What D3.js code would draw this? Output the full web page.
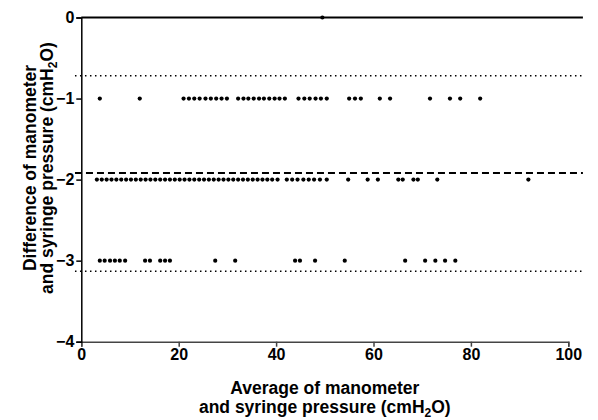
<!DOCTYPE html>
<html>
<head>
<meta charset="utf-8">
<script src="https://cdn.jsdelivr.net/npm/d3@7"></script>
<style>
  html, body { margin: 0; padding: 0; background: #fff; }
  svg { display: block; font-family: "Liberation Sans", Arial, sans-serif; }
  .axis-title { font-size: 17.5px; font-weight: bold; fill: #000; }
</style>
</head>
<body>
<svg id="chart" width="598" height="420"></svg>
<script>
/* Bland-Altman style plot: manometer vs syringe pressure. */

// averages (x) for each observed difference (y)
const diffZero = [49.5];
const diffMinus1 = [3.8, 12.0, 21.0, 22.1, 23.2, 24.3, 25.5, 26.6, 27.7, 28.8, 29.9,
  32.2, 33.3, 34.3, 35.4, 36.5, 37.5, 38.6, 39.7, 40.7, 41.8,
  44.6, 45.8, 46.9, 48.1, 49.2, 50.4, 55.0, 56.2, 57.4, 61.3, 63.4, 71.6, 75.7, 77.8, 81.9];
const diffMinus2 = [3.2, 4.2, 5.2, 6.2, 7.2, 8.2, 9.2, 10.2, 11.2, 12.2, 13.2, 14.2, 15.2,
  16.2, 17.2, 18.2, 19.2, 20.2, 21.2, 22.2, 23.2, 24.2, 25.2, 26.2, 27.2, 28.2, 29.2,
  30.2, 31.2, 32.2, 33.2, 34.2, 35.2, 36.2, 37.2, 38.2, 39.2, 40.3,
  42.2, 43.3, 44.4, 45.6, 46.7, 47.8, 49.0, 50.4, 54.8, 58.8, 60.9, 65.1, 66.0,
  68.2, 69.1, 73.1, 91.8];
const diffMinus3 = [3.8, 4.8, 5.9, 6.9, 7.9, 9.0, 13.1, 14.1, 16.2, 17.2, 18.2, 27.5, 31.6,
  43.9, 44.9, 48.0, 54.1, 66.5, 70.6, 72.7, 74.7, 76.8];

const bias = -1.92;
const limits = [-0.72, -3.13];

const xTicks = [0, 20, 40, 60, 80, 100];
const yTicks = [0, -1, -2, -3, -4];

const margin = { top: 17.5, right: 29.7, bottom: 78.3, left: 81.3 };
const W = 598, H = 420;
const w = W - margin.left - margin.right;
const h = H - margin.top - margin.bottom;

const svg = d3.select("#chart");
const g = svg.append("g").attr("transform", `translate(${margin.left},${margin.top})`);

const x = d3.scaleLinear().domain([0, 100]).range([0, w]);
const y = d3.scaleLinear().domain([-4, 0]).range([h, 0]);

const minus = d => String(d).replace("-", "\u2212");

// axes
const xAxis = g.append("g").attr("transform", `translate(0,${h})`)
  .call(d3.axisBottom(x).tickValues(xTicks).tickSize(5).tickPadding(2).tickFormat(d3.format("d")));
const yAxis = g.append("g")
  .call(d3.axisLeft(y).tickValues(yTicks).tickSize(5).tickPadding(2).tickFormat(minus));
[xAxis, yAxis].forEach(a => {
  a.selectAll(".tick text")
    .attr("fill", "#000")
    .style("font-family", "'Liberation Sans', Arial, sans-serif")
    .style("font-size", "16px")
    .style("font-weight", "bold");
  a.select(".domain").attr("stroke", "#000").attr("stroke-width", 1.5);
  a.selectAll(".tick line").attr("stroke", "#000").attr("stroke-width", 1.5);
});
xAxis.select(".domain").attr("stroke", "#444");
xAxis.selectAll(".tick line").attr("stroke", "#444");

// reference lines
const lx0 = -1.3, lx1 = 103;
g.append("line")
  .attr("x1", x(0)).attr("x2", x(lx1)).attr("y1", y(0)).attr("y2", y(0))
  .attr("stroke", "#000").attr("stroke-width", 2);
g.append("line")
  .attr("x1", x(lx0)).attr("x2", x(lx1)).attr("y1", y(bias)).attr("y2", y(bias))
  .attr("stroke", "#000").attr("stroke-width", 2).attr("stroke-dasharray", "7,4");
limits.forEach(v => {
  g.append("line")
    .attr("x1", x(lx0)).attr("x2", x(lx1)).attr("y1", y(v)).attr("y2", y(v))
    .attr("stroke", "#000").attr("stroke-width", 1.5).attr("stroke-dasharray", "1.5,3.5");
});

// points
const points = [];
diffZero.forEach(v => points.push([v, 0]));
diffMinus1.forEach(v => points.push([v, -1]));
diffMinus2.forEach(v => points.push([v, -2]));
diffMinus3.forEach(v => points.push([v, -3]));

g.append("g").selectAll("circle")
  .data(points)
  .join("circle")
  .attr("cx", d => x(d[0]))
  .attr("cy", d => y(d[1]))
  .attr("r", 2.1)
  .attr("fill", "#000");

// axis titles
const cx = margin.left + w / 2;
const xt = svg.append("text").attr("class", "axis-title").attr("text-anchor", "middle");
xt.append("tspan").attr("x", cx).attr("y", 394).text("Average of manometer");
const xt2 = xt.append("tspan").attr("x", cx).attr("y", 413);
xt2.append("tspan").text("and syringe pressure (cmH");
xt2.append("tspan").attr("font-size", "12px").attr("dy", 4).text("2");
xt2.append("tspan").attr("dy", -4).text("O)");

const yt = svg.append("text").attr("class", "axis-title").attr("text-anchor", "middle")
  .attr("transform", "translate(0,168) rotate(-90)");
yt.append("tspan").attr("x", 0).attr("y", 36).text("Difference of manometer");
const yt2 = yt.append("tspan").attr("x", 0).attr("y", 53);
yt2.append("tspan").text("and syringe pressure (cmH");
yt2.append("tspan").attr("font-size", "12px").attr("dy", 4).text("2");
yt2.append("tspan").attr("dy", -4).text("O)");
</script>
</body>
</html>
